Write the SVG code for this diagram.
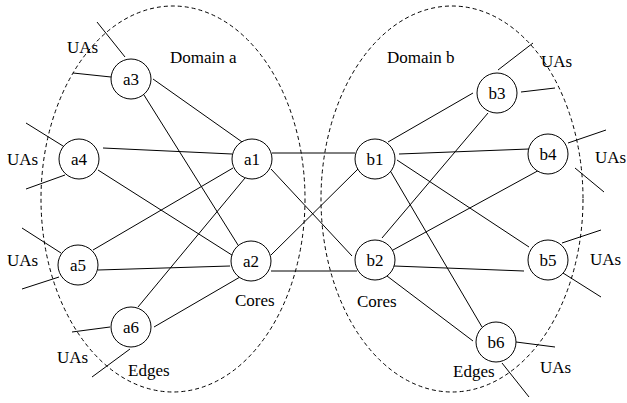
<svg xmlns="http://www.w3.org/2000/svg" width="627" height="403" viewBox="0 0 627 403" font-family="'Liberation Serif', 'DejaVu Serif', serif">
<style>
text{font-family:'Liberation Serif','DejaVu Serif',serif;font-size:17px;fill:#000}
.lbl{text-anchor:middle}
.node circle{fill:#fff;stroke:#000;stroke-width:1}
#connectors line{stroke:#000;stroke-width:1}
.dom{fill:none;stroke:#000;stroke-width:1;stroke-dasharray:4,3}
</style>
<rect width="627" height="403" fill="#fff"/>
<g id="domains">
<ellipse class="dom" cx="173" cy="199" rx="132" ry="193"/>
<ellipse class="dom" cx="452" cy="199" rx="131" ry="193"/>
</g>
<g id="connectors">
<line x1="97" y1="22" x2="125" y2="57"/>
<line x1="73" y1="73" x2="111" y2="77"/>
<line x1="153" y1="79" x2="245" y2="144"/>
<line x1="144" y1="95" x2="238" y2="245"/>
<line x1="26" y1="123" x2="63" y2="146"/>
<line x1="26" y1="189" x2="65" y2="175"/>
<line x1="103" y1="148" x2="232" y2="154"/>
<line x1="98" y1="170" x2="235" y2="257"/>
<line x1="233" y1="168" x2="93" y2="250"/>
<line x1="245" y1="178" x2="138" y2="307"/>
<line x1="98" y1="270" x2="230" y2="266"/>
<line x1="154" y1="327" x2="240" y2="277"/>
<line x1="22" y1="228" x2="61" y2="253"/>
<line x1="22" y1="289" x2="59" y2="277"/>
<line x1="72" y1="332" x2="110" y2="327"/>
<line x1="92" y1="377" x2="130" y2="349"/>
<line x1="272" y1="153" x2="355" y2="153"/>
<line x1="271" y1="271" x2="357" y2="271"/>
<line x1="271" y1="169" x2="352" y2="256"/>
<line x1="271" y1="255" x2="359" y2="168"/>
<line x1="498" y1="70" x2="533" y2="43"/>
<line x1="521" y1="92" x2="555" y2="88"/>
<line x1="388" y1="142" x2="473" y2="93"/>
<line x1="399" y1="154" x2="529" y2="149"/>
<line x1="568" y1="143" x2="606" y2="130"/>
<line x1="575" y1="168" x2="604" y2="192"/>
<line x1="488" y1="113" x2="382" y2="238"/>
<line x1="543" y1="168" x2="393" y2="250"/>
<line x1="397" y1="160" x2="529" y2="247"/>
<line x1="388" y1="167" x2="482" y2="327"/>
<line x1="394" y1="266" x2="524" y2="271"/>
<line x1="387" y1="276" x2="473" y2="341"/>
<line x1="562" y1="243" x2="601" y2="230"/>
<line x1="563" y1="273" x2="601" y2="297"/>
<line x1="516" y1="342" x2="555" y2="347"/>
<line x1="502" y1="363" x2="529" y2="397"/>
</g>
<g id="a1" class="node"><circle cx="252" cy="159" r="20"/><text class="lbl" x="252" y="165">a1</text></g>
<g id="a2" class="node"><circle cx="251" cy="261" r="20"/><text class="lbl" x="251" y="267">a2</text></g>
<g id="a3" class="node"><circle cx="131" cy="79" r="20"/><text class="lbl" x="131" y="85">a3</text></g>
<g id="a4" class="node"><circle cx="79" cy="159" r="20"/><text class="lbl" x="79" y="165">a4</text></g>
<g id="a5" class="node"><circle cx="78" cy="265" r="20"/><text class="lbl" x="78" y="271">a5</text></g>
<g id="a6" class="node"><circle cx="131" cy="327" r="20"/><text class="lbl" x="131" y="333">a6</text></g>
<g id="b1" class="node"><circle cx="375" cy="159" r="20"/><text class="lbl" x="375" y="165">b1</text></g>
<g id="b2" class="node"><circle cx="375" cy="260" r="20"/><text class="lbl" x="375" y="266">b2</text></g>
<g id="b3" class="node"><circle cx="497" cy="93" r="20"/><text class="lbl" x="497" y="99">b3</text></g>
<g id="b4" class="node"><circle cx="548" cy="154" r="20"/><text class="lbl" x="548" y="160">b4</text></g>
<g id="b5" class="node"><circle cx="548" cy="260" r="20"/><text class="lbl" x="548" y="266">b5</text></g>
<g id="b6" class="node"><circle cx="496" cy="342" r="20"/><text class="lbl" x="496" y="348">b6</text></g>
<g id="labels">
<text x="170" y="63">Domain a</text>
<text x="387" y="63">Domain b</text>
<text x="67" y="53">UAs</text>
<text x="7" y="165">UAs</text>
<text x="7" y="266">UAs</text>
<text x="57" y="363">UAs</text>
<text x="128" y="376">Edges</text>
<text x="235" y="306">Cores</text>
<text x="541" y="67">UAs</text>
<text x="595" y="163">UAs</text>
<text x="590" y="265">UAs</text>
<text x="540" y="373">UAs</text>
<text x="453" y="377">Edges</text>
<text x="357" y="307">Cores</text>
</g>
</svg>
